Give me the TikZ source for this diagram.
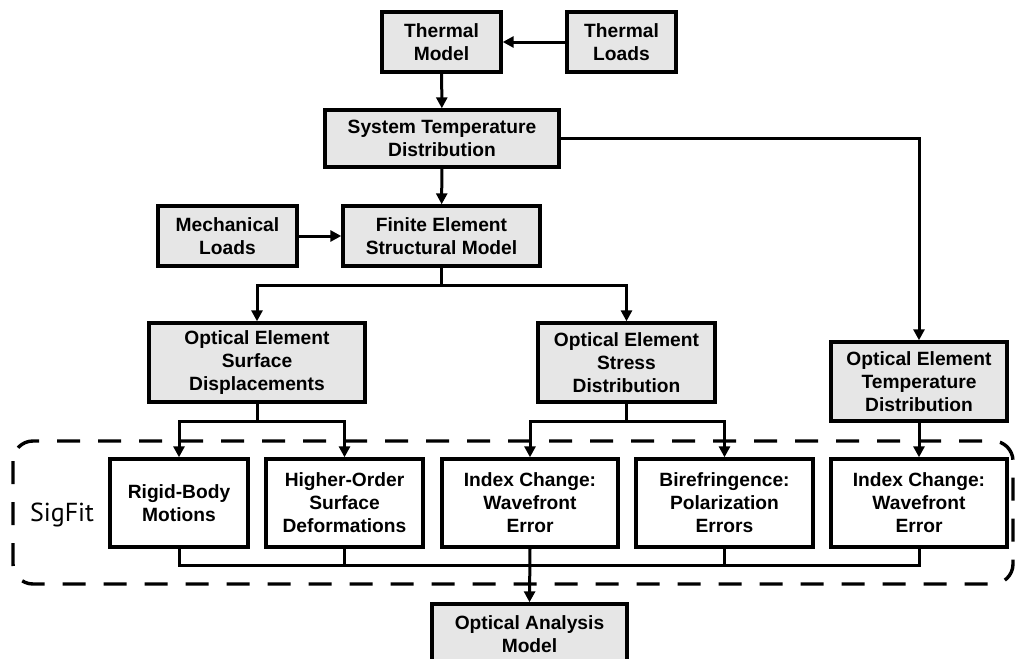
\documentclass[tikz,border=0pt]{standalone}
\usepackage{fontspec}
\setmainfont{Liberation Sans}
\newfontfamily\sigfitfont{PT Sans}
\usetikzlibrary{arrows.meta}
\definecolor{boxgrey}{HTML}{E6E6E6}
\tikzset{
  blk/.style  ={draw=black, line width=1.7pt, fill=boxgrey, align=center,
                inner sep=2pt, font=\fontsize{9.6pt}{11.5pt}\selectfont\bfseries},
  blkw/.style ={blk, fill=white},
  ar/.style   ={-{Triangle[length=5.5pt,width=5.5pt]}, draw=black, line width=1.5pt},
  ln/.style   ={draw=black, line width=1.5pt},
  grp/.style  ={draw=black, line width=1.7pt, rounded corners=10pt,
                dash pattern=on 11.5pt off 9pt},
  tag/.style  ={font=\sigfitfont\fontsize{13pt}{15pt}\selectfont, inner sep=0pt}
}

\begin{document}
\begin{tikzpicture}[x=0.5pt, y=-0.5pt]
\useasboundingbox (0,0) rectangle (1018,659);
% SigFit group
\draw[grp] (13,441) rectangle (1013,584);
\node[tag] (sig) at (62,515) {SigFit};
% upper chain
\node[blk, minimum width=59.5pt, minimum height=30pt] (therm) at (441.5,42)
  {Thermal\\Model};
\node[blk, minimum width=54.5pt, minimum height=30pt] (tload) at (621.5,42)
  {Thermal\\Loads};
\node[blk, minimum width=117pt, minimum height=28.5pt] (systemp) at (442,138.5)
  {System Temperature\\Distribution};
\node[blk, minimum width=98.5pt, minimum height=30pt] (fem) at (441.5,236)
  {Finite Element\\Structural Model};
\node[blk, minimum width=69.5pt, minimum height=30pt] (mload) at (227.5,236)
  {Mechanical\\Loads};
% optical element results
\node[blk, minimum width=108pt, minimum height=39.5pt] (surfd) at (257,362.5)
  {Optical Element\\Surface\\Displacements};
\node[blk, minimum width=88.5pt, minimum height=39.5pt] (stress) at (626.5,362.5)
  {Optical Element\\Stress\\Distribution};
\node[blk, minimum width=88pt, minimum height=39.5pt] (otemp) at (919,381.5)
  {Optical Element\\Temperature\\Distribution};
% SigFit boxes
\node[blkw, minimum width=69pt, minimum height=44pt] (rigid) at (179,503)
  {Rigid-Body\\Motions};
\node[blkw, minimum width=78.5pt, minimum height=44pt] (hosd) at (344.5,503)
  {Higher-Order\\Surface\\Deformations};
\node[blkw, minimum width=88pt, minimum height=44pt] (idxa) at (530,503)
  {Index Change:\\Wavefront\\Error};
\node[blkw, minimum width=88.5pt, minimum height=44pt] (biref) at (724.5,503)
  {Birefringence:\\Polarization\\Errors};
\node[blkw, minimum width=88pt, minimum height=44pt] (idxb) at (919,503)
  {Index Change:\\Wavefront\\Error};
\node[blk, minimum width=97.5pt, minimum height=30pt] (oam) at (529.5,634)
  {Optical Analysis\\Model};
% split points
\coordinate (fsplit) at (441.5,285);
\coordinate (dsplit) at (257,421);
\coordinate (ssplit) at (626.5,421);
\coordinate (merge) at (530,565);
% connectors
\draw[ar] (tload) -- (therm);
\draw[ar] (therm) -- (systemp);
\draw[ar] (systemp) -- (fem);
\draw[ar] (mload) -- (fem);
\draw[ar] (systemp.east) -| (otemp.north);
\draw[ar] (fem.south) -- (fsplit) -| (surfd.north);
\draw[ar] (fsplit) -| (stress.north);
\draw[ar] (surfd.south) -- (dsplit) -| (rigid.north);
\draw[ar] (dsplit) -| (hosd.north);
\draw[ar] (stress.south) -- (ssplit) -| (idxa.north);
\draw[ar] (ssplit) -| (biref.north);
\draw[ar] (otemp) -- (idxb);
% merge into optical model
\draw[ln] (rigid.south) |- (merge) -| (idxb.south);
\draw[ln] (hosd.south) -- (hosd.south |- merge);
\draw[ln] (biref.south) -- (biref.south |- merge);
\draw[ar] (idxa.south) -- (oam.north);
\end{tikzpicture}
\end{document}
